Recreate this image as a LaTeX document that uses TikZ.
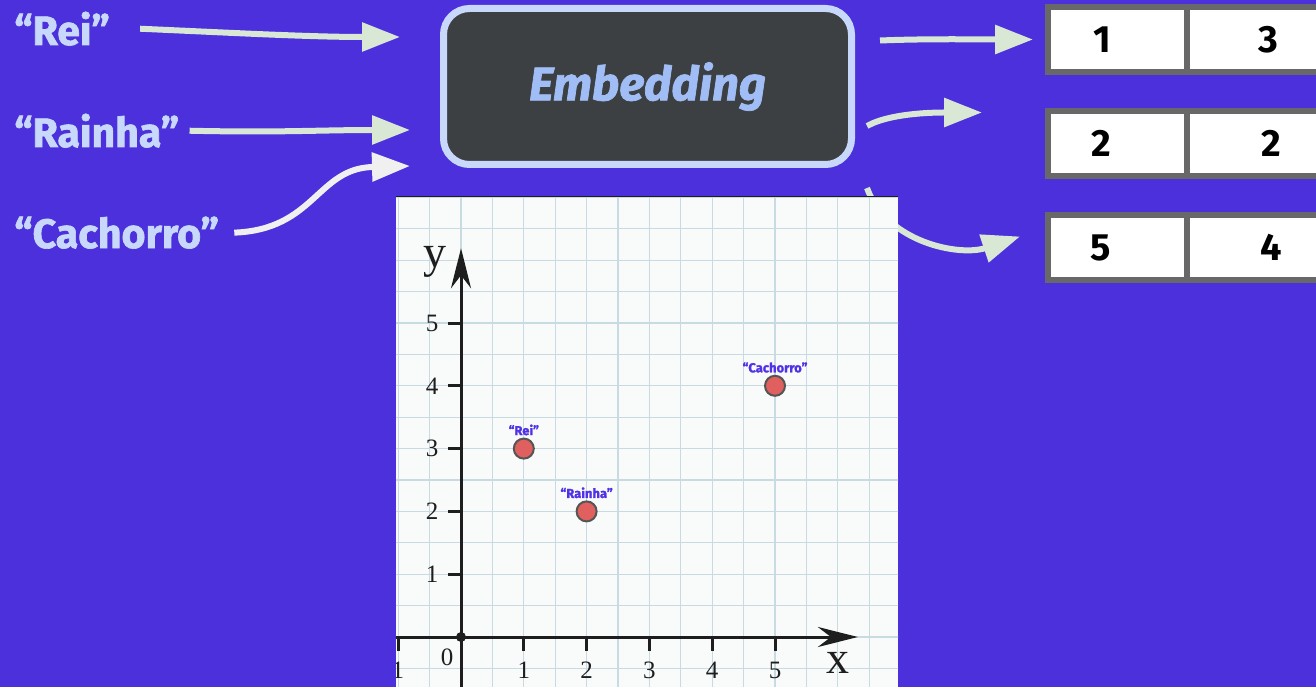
\documentclass[tikz,border=0pt]{standalone}
\usepackage{fontspec}
\setmainfont{Fira Sans}
\newfontfamily\heavyfont{Fira Sans}[BoldFeatures={FakeBold=1.6}, BoldItalicFeatures={FakeBold=1.6}]
\newfontfamily\plotfont{Liberation Serif}
\usetikzlibrary{arrows.meta,positioning,calc}
\definecolor{night}{RGB}{75,48,220}
\definecolor{word}{RGB}{200,216,250}
\definecolor{link}{RGB}{216,232,212}
\definecolor{linkpale}{RGB}{240,240,240}
\definecolor{slab}{RGB}{60,64,67}
\definecolor{slabtext}{RGB}{160,190,245}
\definecolor{cellrim}{RGB}{104,104,104}
\definecolor{paper}{RGB}{249,251,251}
\definecolor{gridline}{RGB}{200,218,226}
\definecolor{dot}{RGB}{224,96,96}
\definecolor{dotrim}{RGB}{85,85,85}
\definecolor{tag}{RGB}{80,50,230}
\definecolor{pen}{RGB}{30,30,30}
\tikzset{
  every picture/.style={x=1pt, y=-1pt, line width=0.5pt},
  wordlbl/.style={anchor=base west, inner sep=0pt, text=word, font=\heavyfont\fontsize{41}{41}\selectfont\bfseries},
  embbox/.style={draw=word, line width=7pt, fill=slab, rounded corners=26pt, minimum width=408pt, minimum height=156pt, text=slabtext, font=\heavyfont\fontsize{47}{47}\selectfont\bfseries\itshape},
  cell/.style={draw=cellrim, line width=6pt, fill=white, minimum width=139pt, minimum height=65pt, inner sep=0pt},
  num/.style={inner sep=0pt, font=\fontsize{38}{38}\selectfont\bfseries},
  flow/.style={-{Triangle[length=38pt,width=28pt]}, line width=6pt, color=link},
  flowpale/.style={flow, color=linkpale},
  axis/.style={line width=3pt, color=pen},
  gridrule/.style={line width=1.2pt, color=gridline},
  ticklbl/.style={inner sep=0pt, text=pen, font=\plotfont\fontsize{25}{25}\selectfont},
  axislbl/.style={inner sep=0pt, text=pen, font=\plotfont\fontsize{46}{46}\selectfont},
  pt/.style={circle, draw=dotrim, fill=dot, line width=2pt, minimum size=20pt, inner sep=0pt},
  tagtxt/.style={inner sep=2pt, text=tag, font=\heavyfont\fontsize{13}{13}\selectfont\bfseries},
}

\begin{document}
\begin{tikzpicture}
  \useasboundingbox (0,0) rectangle (1316,687);
  \fill[night] (0,0) rectangle (1316,687);
  % words
  \node[wordlbl] (rei) at (14,45) {“Rei”};
  \node[wordlbl] (rainha) at (14,147) {“Rainha”};
  \node[wordlbl] (cachorro) at (14,248) {“Cachorro”};
  % model
  \node[embbox] (emb) at (647.5,86.5) {Embedding};
  % vectors
  \node[cell] (row1L) at (1117.5,39.5) {};
  \node[cell, right=-6pt of row1L] (row1R) {};
  \node[cell, below=33pt of row1L] (row2L) {};
  \node[cell, right=-6pt of row2L] (row2R) {};
  \node[cell, below=33pt of row2L] (row3L) {};
  \node[cell, right=-6pt of row3L] (row3R) {};
  \node[num] (n1a) at ([xshift=-15]row1L.center) {1};
  \node[num] (n1b) at ([xshift=12]row1R.center) {3};
  \node[num] (n2a) at ([xshift=-16]row2L.center) {2};
  \node[num] (n2b) at ([xshift=15]row2R.center) {2};
  \node[num] (n3a) at ([xshift=-17]row3L.center) {5};
  \node[num] (n3b) at ([xshift=15]row3R.center) {4};
  % links in
  \draw[flow] ([xshift=30]rei.east) .. controls +(90,4) and +(-90,0) .. ([shift={(-40,-49.5)}]emb.west);
  \draw[flow] ([xshift=10]rainha.east) .. controls +(90,2) and +(-90,0) .. ([shift={(-30,43.5)}]emb.west);
  \draw[flowpale] ([xshift=15]cachorro.east) .. controls +(80,-3) and +(-55,2) .. ([shift={(-68,80.5)}]emb.west) -- ([shift={(-30,79.5)}]emb.west);
  % links out
  \draw[flow] ([shift={(25,-46)}]emb.east) .. controls +(50,-2) and +(-50,0) .. ([xshift=-12]row1L.west);
  \draw[flow] ([shift={(12,39.5)}]emb.east) .. controls +(25,-14) and +(-40,0) .. ([shift={(-63,-31)}]row2L.west);
  \draw[flow] ([shift={(12,101.5)}]emb.east) .. controls +(20,55) and +(-60,20) .. ([shift={(-25,-11)}]row3L.west);
  % plot
  \begin{scope}
    \clip (396,196) rectangle (898,687);
    \fill[paper] (396,196) rectangle (898,687);
    \begin{scope}[shift={(461,637)}, x=62.8pt, y=62.8pt]
      \foreach \g in {-3,...,14} {
        \draw[gridrule] (\g/2,-1.5) -- (\g/2,7.5);
        \draw[gridrule] (-1.5,\g/2) -- (7.5,\g/2);
      }
      \draw[axis, -{Stealth[length=40pt,width=20pt]}] (-1.2,0) -- (6.32,0);
      \draw[axis, -{Stealth[length=40pt,width=20pt]}] (0,-1) -- (0,6.19);
      \foreach \i in {-1,...,5} \draw[axis] (\i,0) -- (\i,-0.22);
      \foreach \i in {1,...,5} \node[ticklbl] (xt\i) at (\i,-0.53) {\i};
      \node[ticklbl, anchor=east] (xtm) at (-0.9,-0.53) {\textminus1};
      \foreach \j in {1,...,5} {
        \draw[axis] (0,\j) -- (-0.2,\j);
        \node[ticklbl] (yt\j) at (-0.46,\j) {\j};
      }
      \node[ticklbl] (zero) at (-0.22,-0.32) {0};
      \fill[pen] (0,0) circle[radius=5pt];
      \node[axislbl] (xlbl) at (6.0,-0.42) {x};
      \node[axislbl] (ylbl) at (-0.41,5.98) {y};
      \node[pt, label={[tagtxt]above:“Rei”}] (prei) at (1,3) {};
      \node[pt, label={[tagtxt]above:“Rainha”}] (prainha) at (2,2) {};
      \node[pt, label={[tagtxt]above:“Cachorro”}] (pcachorro) at (5,4) {};
    \end{scope}
    \draw[pen, line width=2.5pt] (396,196) -- (898,196);
  \end{scope}
\end{tikzpicture}
\end{document}
